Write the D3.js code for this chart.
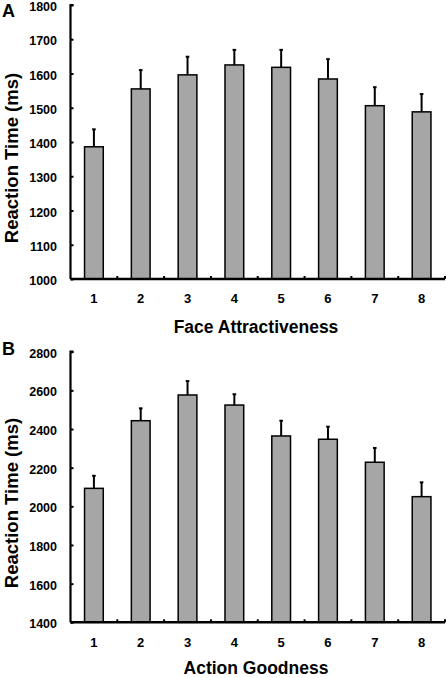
<!DOCTYPE html>
<html><head><meta charset="utf-8">
<script src="https://cdn.jsdelivr.net/npm/d3@7/dist/d3.min.js"></script>
<style>body{margin:0;background:#fff}svg{display:block}text{font-family:Arial,"Liberation Sans",sans-serif;font-weight:bold;fill:#000}</style>
</head><body><svg id="c" width="446" height="678"></svg>
<script>
const categories = ["1","2","3","4","5","6","7","8"];
const faceMeans = [1386,1555,1596,1625,1618,1584,1506,1488];
const faceErrors = [51,55,53,44,51,58,54,52];
const actionMeans = [2093,2443,2576,2524,2364,2347,2228,2050];
const actionErrors = [65,64,72,56,79,65,74,74];
const faceTicks = [1000,1100,1200,1300,1400,1500,1600,1700,1800];
const actionTicks = [1400,1600,1800,2000,2200,2400,2600,2800];

const svg = d3.select("#c");

function panel(opts){
  const g = svg.append("g");
  const x = d3.scaleBand().domain(categories).range([70.5,445]).paddingInner(0.6).paddingOuter(0.3);
  const xb = d3.scaleBand().domain(categories).range([70.5,445]);
  const y = d3.scaleLinear().domain(opts.domain).range([opts.y0, opts.y1]);
  g.selectAll("rect.bar").data(opts.means).join("rect")
    .attr("x",(d,i)=>x(categories[i])).attr("width",x.bandwidth())
    .attr("y",d=>y(d)).attr("height",d=>y(opts.domain[0])-y(d))
    .attr("fill","#a6a6a6").attr("stroke","#000").attr("stroke-width",1.5);
  g.selectAll("line.err").data(opts.means).join("line")
    .attr("x1",(d,i)=>x(categories[i])+x.bandwidth()/2).attr("x2",(d,i)=>x(categories[i])+x.bandwidth()/2)
    .attr("y1",d=>y(d)).attr("y2",(d,i)=>y(d+opts.errs[i]))
    .attr("stroke","#000").attr("stroke-width",2);
  g.selectAll("line.cap").data(opts.means).join("line")
    .attr("x1",(d,i)=>x(categories[i])+x.bandwidth()/2-1.8).attr("x2",(d,i)=>x(categories[i])+x.bandwidth()/2+1.8)
    .attr("y1",(d,i)=>y(d+opts.errs[i])).attr("y2",(d,i)=>y(d+opts.errs[i]))
    .attr("stroke","#000").attr("stroke-width",2);
  const ya = g.append("g").attr("transform","translate(70.5,0)")
    .call(d3.axisRight(y).tickValues(opts.ticks).tickSize(3).tickFormat(d3.format("d")));
  ya.select(".domain").attr("stroke-width",2.2).attr("d",`M3,${opts.y1}H0V${opts.y0}`);
  ya.selectAll(".tick line").attr("stroke-width",2);
  ya.selectAll(".tick text").attr("x",-13.5).attr("text-anchor","end").attr("font-size",12.5).attr("font-family","Arial, Liberation Sans, sans-serif").attr("font-weight","bold").attr("dy","0.45em");
  const xa = g.append("g").attr("transform",`translate(0,${opts.y0})`)
    .call(d3.axisBottom(x).tickSize(0).tickPadding(15));
  xa.select(".domain").attr("stroke-width",2.4).attr("d",`M70.5,0H445`);
  xa.selectAll(".tick text").attr("font-size",13).attr("font-family","Arial, Liberation Sans, sans-serif").attr("font-weight","bold");
  g.selectAll("line.bt").data(categories).join("line")
    .attr("x1",d=>xb(d)+xb.bandwidth()).attr("x2",d=>xb(d)+xb.bandwidth())
    .attr("y1",opts.y0).attr("y2",opts.y0-3).attr("stroke","#000").attr("stroke-width",2);
  g.append("text").attr("x",256).attr("y",opts.titleY).attr("text-anchor","middle").attr("font-size",17.5).text(opts.xTitle);
  g.append("text").attr("transform",`translate(18,${(opts.y0+opts.y1)/2+16}) rotate(-90)`).attr("text-anchor","middle").attr("font-size",18.5).text("Reaction Time (ms)");
  g.append("text").attr("x",2).attr("y",opts.letterY).attr("font-size",18).text(opts.letter);
}

panel({domain:[1000,1800],y0:279,y1:5,means:faceMeans,errs:faceErrors,ticks:faceTicks,xTitle:"Face Attractiveness",titleY:333,letter:"A",letterY:17});
panel({domain:[1400,2800],y0:622.3,y1:351.7,means:actionMeans,errs:actionErrors,ticks:actionTicks,xTitle:"Action Goodness",titleY:673.5,letter:"B",letterY:355});
</script></body></html>
